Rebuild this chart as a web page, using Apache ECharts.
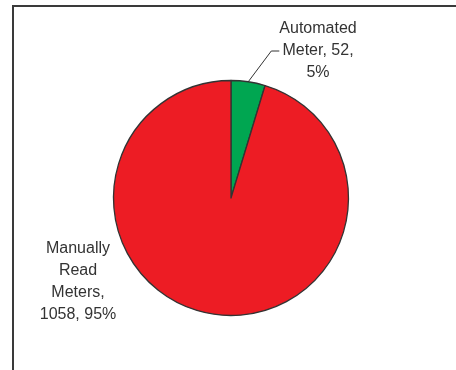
<!DOCTYPE html>
<html>
<head>
<meta charset="utf-8">
<style>
  html, body { margin: 0; padding: 0; background: #fff; }
  #chart { width: 456px; height: 370px; }
</style>
<script src="https://cdn.jsdelivr.net/npm/echarts@6/dist/echarts.min.js"></script>
</head>
<body>
<div id="chart"></div>
<script>
// Meter types and counts
const categories = ['Automated Meter', 'Manually Read Meters'];
const meterCounts = [52, 1058];
const sliceColors = ['#00A651', '#ED1C24'];

const chart = echarts.init(document.getElementById('chart'), null, { renderer: 'canvas' });

const pieData = categories.map((name, i) => ({
  name: name,
  value: meterCounts[i],
  itemStyle: { color: sliceColors[i] },
  labelLine: { show: i === 0 }
}));

// Line-wrapped label text for each slice
function labelText(p) {
  if (p.dataIndex === 0) {
    return 'Automated\nMeter, ' + p.value + ',\n' + p.percent + '%';
  }
  return 'Manually\nRead\nMeters,\n' + p.value + ', ' + p.percent + '%';
}

// Where each slice's label block sits (centre of the text block)
const labelSpots = [
  { x: 318, y: 51 },
  { x: 78, y: 282 }
];

chart.setOption({
  animation: false,
  backgroundColor: '#ffffff',
  graphic: [{
    type: 'rect',
    shape: { x: 13, y: 6, width: 600, height: 500 },
    style: { fill: 'none', stroke: '#3a3a3a', lineWidth: 2 },
    silent: true
  }],
  series: [{
    type: 'pie',
    center: [231, 198],
    radius: 117.5,
    startAngle: 90,
    clockwise: true,
    percentPrecision: 0,
    data: pieData,
    itemStyle: { borderColor: '#333333', borderWidth: 1.3 },
    label: {
      show: true,
      position: 'outside',
      color: '#333333',
      fontFamily: 'Liberation Sans, Arial, sans-serif',
      fontSize: 16,
      lineHeight: 22,
      align: 'center',
      formatter: labelText
    },
    labelLine: {
      show: true,
      length: 20,
      length2: 8,
      lineStyle: { color: '#333333', width: 1 }
    },
    labelLayout: function (params) {
      const spot = labelSpots[params.dataIndex];
      return { x: spot.x, y: spot.y, align: 'center', verticalAlign: 'middle' };
    }
  }]
});
</script>
</body>
</html>
